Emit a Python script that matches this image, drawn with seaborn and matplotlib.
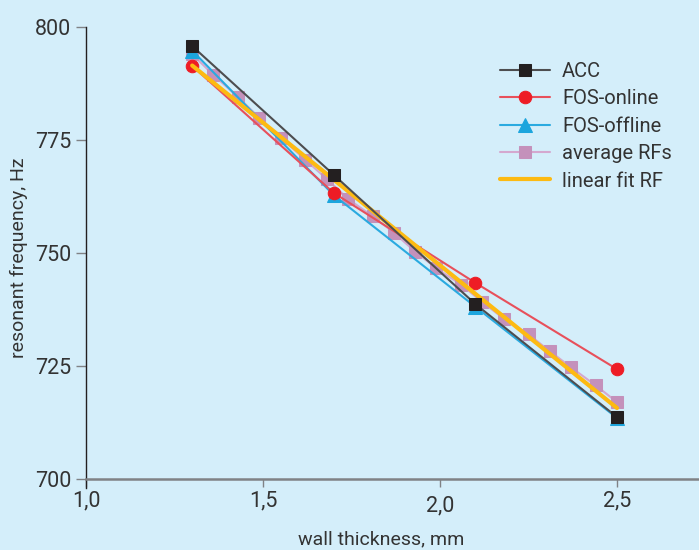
import numpy as np
import pandas as pd
import seaborn as sns
import matplotlib
matplotlib.use('Agg')
import matplotlib.pyplot as plt
import matplotlib.transforms as mtransforms

# measured points
x_meas = [1.3, 1.7, 2.1, 2.5]
acc = [795.8, 767.3, 738.7, 713.7]
fos_online = [791.4, 763.3, 743.4, 724.3]
fos_offline = [794.8, 762.8, 738.1, 713.5]

# averaged resonant frequencies
x_avg = [1.30, 1.36, 1.43, 1.49, 1.55, 1.62, 1.68, 1.74, 1.81, 1.87,
         1.93, 1.99, 2.06, 2.12, 2.18, 2.25, 2.31, 2.37, 2.44, 2.50]
avg_rf = [794.0, 789.4, 784.5, 779.9, 775.5, 770.6, 766.4, 762.0, 758.1, 754.5,
          750.3, 746.6, 743.0, 739.1, 735.5, 732.0, 728.3, 724.7, 720.7, 717.0]

# linear fit end points
x_fit = [1.3, 2.5]
fit_rf = [791.5, 715.7]

x_ticks = [1.0, 1.5, 2.0, 2.5]
x_ticklabels = ['1,0', '1,5', '2,0', '2,5']
y_ticks = [700, 725, 750, 775, 800]

bg = '#D4EEFA'
txt = '#333333'
sns.set_theme(style='white')
plt.rcParams['font.family'] = ['Roboto', 'DejaVu Sans']

fig = plt.figure(figsize=(6.99, 5.5), dpi=100, facecolor=bg)
ax = fig.add_axes([0.123, 0.1127, 0.877, 0.838])
ax.set_facecolor(bg)

sns.lineplot(x=x_avg, y=avg_rf, ax=ax, color='#D4A8CF', lw=1.5, marker='s',
             markersize=8, markerfacecolor='#C491BB', markeredgecolor='#C491BB',
             label='average RFs', zorder=2)
sns.lineplot(x=x_meas, y=fos_offline, ax=ax, color='#2AAAE0', lw=1.5, marker='^',
             markersize=9.5, markerfacecolor='#1CA5DD', markeredgecolor='#1CA5DD',
             label='FOS-offline', zorder=3)
sns.lineplot(x=x_meas, y=fos_online, ax=ax, color='#E8505B', lw=1.5, marker='o',
             markersize=9, markerfacecolor='#EE1C25', markeredgecolor='#EE1C25',
             label='FOS-online', zorder=4)
sns.lineplot(x=x_fit, y=fit_rf, ax=ax, color='#FDBA12', lw=3,
             label='linear fit RF', zorder=5)
sns.lineplot(x=x_meas, y=acc, ax=ax, color='#4D4D4F', lw=1.5, marker='s',
             markersize=8.5, markerfacecolor='#231F20', markeredgecolor='#231F20',
             label='ACC', zorder=6)

ax.set_xlim(1.0, 2.7316)
ax.set_ylim(698.0, 800)
ax.spines['bottom'].set_position(('data', 700))
ax.spines['top'].set_visible(False)
ax.spines['right'].set_visible(False)
ax.spines['left'].set_color('#231F20')
ax.spines['left'].set_linewidth(1.0)
ax.spines['bottom'].set_color('#808285')
ax.spines['bottom'].set_linewidth(1.8)

ax.set_xticks(x_ticks)
ax.set_xticklabels(x_ticklabels)
ax.set_yticks(y_ticks)
ax.tick_params(axis='x', direction='out', length=5.5, width=1.0, color='#808285',
               labelsize=15.5, labelcolor=txt, pad=3, bottom=True)
ax.tick_params(axis='y', direction='out', length=7.5, width=1.0, color='#808285',
               labelsize=15.5, labelcolor=txt, pad=3, left=True)

# the "2,0" label sits a bit lower in the original
lbl = ax.get_xticklabels()[2]
lbl.set_transform(lbl.get_transform() +
                  mtransforms.ScaledTranslation(0, -5 / 100, fig.dpi_scale_trans))

ax.set_xlabel('wall thickness, mm', fontsize=14, color=txt)
ax.set_ylabel('resonant frequency, Hz', fontsize=14, color=txt)
ax.xaxis.set_label_coords(0.481, -0.092)
ax.yaxis.set_label_coords(-0.094, 0.5)

handles, labels = ax.get_legend_handles_labels()
order = ['ACC', 'FOS-online', 'FOS-offline', 'average RFs', 'linear fit RF']
hmap = dict(zip(labels, handles))
leg = ax.legend([hmap[k] for k in order], order, loc='upper left',
                bbox_to_anchor=(0.675, 0.925), frameon=False, fontsize=14.5,
                borderpad=0, borderaxespad=0,
                handlelength=2.5, labelspacing=0.42, handletextpad=0.6,
                labelcolor=txt)

fig.savefig('out.png', dpi=100, facecolor=bg)
